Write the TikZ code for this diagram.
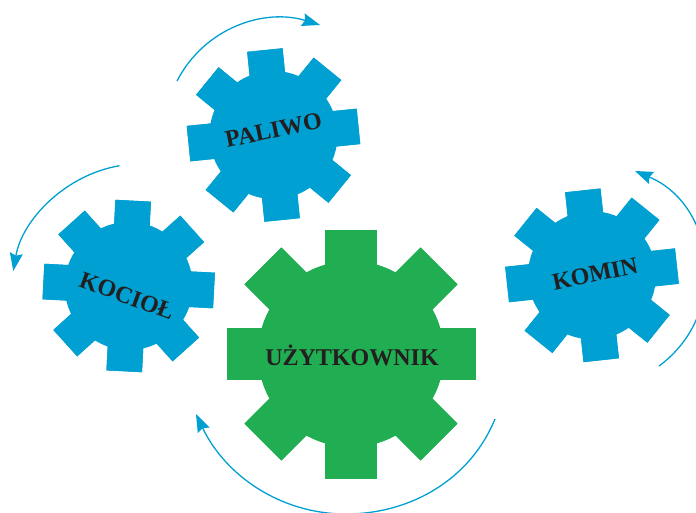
\documentclass[tikz,border=0pt]{standalone}
\usepackage{fontspec}
\setmainfont{Liberation Serif}
\usetikzlibrary{arrows.meta}
\definecolor{gearblue}{RGB}{0,160,210}
\definecolor{geargreen}{RGB}{33,174,82}
\definecolor{labelink}{RGB}{35,31,32}
\tikzset{
  gearlabel/.style={text=labelink,font=\bfseries\fontsize{24}{24}\selectfont,inner sep=0pt},
  turnarrow/.style={draw=gearblue,line width=1.3pt,-{Stealth[length=18pt,width=13pt,inset=2.5pt]}}
}
% center x, y, rotation, body radius, tooth half-width, tooth outer radius, colour
\newcommand{\gearshape}[7]{%
  \begin{scope}[shift={(#1,#2)},rotate=#3]
    \fill[#7] (0,0) circle[radius=#4];
    \foreach \ga in {0,45,...,315}{
      \fill[#7,rotate=\ga] (-#6,-#5) rectangle (#6,#5);
    }
  \end{scope}}
\begin{document}
\begin{tikzpicture}[x=1pt,y=-1pt]
\useasboundingbox (0,0) rectangle (696,512);
\clip (0,0) rectangle (696,512);
\gearshape{273.5}{135}{5.8}{64}{17.8}{85.4}{gearblue}
\gearshape{128.7}{286}{-3}{64}{17.8}{85.4}{gearblue}
\gearshape{592}{275.3}{6.2}{64}{17.8}{85.4}{gearblue}
\gearshape{351}{354}{0}{93}{26}{124.5}{geargreen}
\node[gearlabel,rotate=12] (paliwo) at (273.5,130) {PALIWO};
\node[gearlabel,rotate=-20] (kociol) at (127,296) {KOCIOŁ};
\node[gearlabel,rotate=12] (komin) at (595,274) {KOMIN};
\node[gearlabel] (uzytkownik) at (352,355) {UŻYTKOWNIK};
\draw[turnarrow] (177,81) .. controls (205,27) and (265,8) .. (320,25);
\draw[turnarrow] (119.5,165.7) .. controls (65,175) and (22,220) .. (13.3,271);
\draw[turnarrow] (659,366) .. controls (730,314) and (716,205) .. (635,171);
\draw[turnarrow] (495,419) .. controls (470,480) and (410,514) .. (346,514) .. controls (280,514) and (225,475) .. (196,414);
\end{tikzpicture}
\end{document}
